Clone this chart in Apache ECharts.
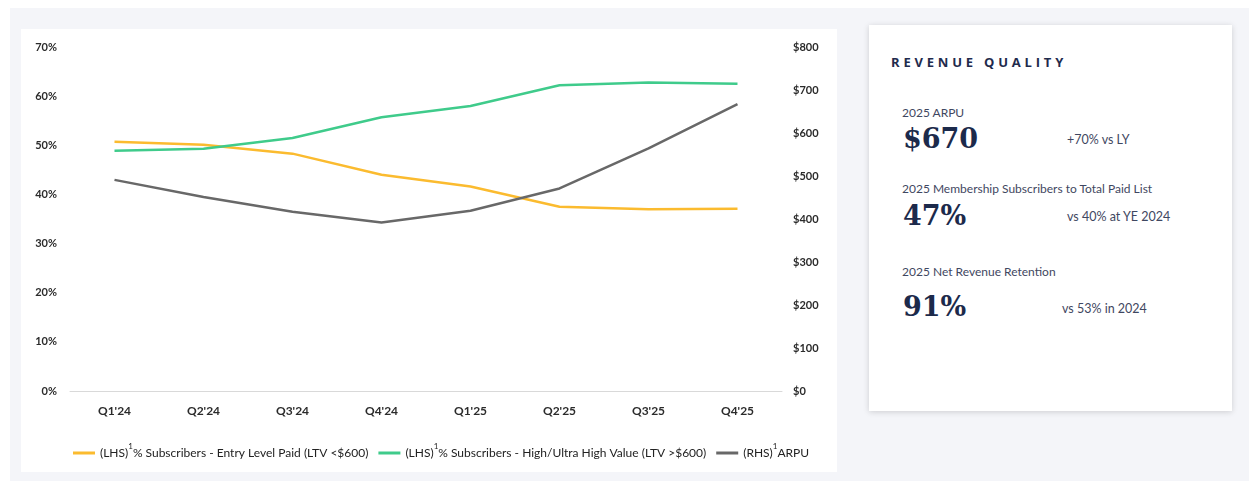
<!DOCTYPE html>
<html>
<head>
<meta charset="utf-8">
<script src="https://cdn.jsdelivr.net/npm/echarts@6/dist/echarts.min.js"></script>
<style>
  html, body { margin: 0; padding: 0; background: #fff; }
  #stage { position: relative; width: 1249px; height: 481px; overflow: hidden; }
  #bg { position: absolute; left: 10px; top: 8px; right: 0; bottom: 0; background: #f4f5f9; }
  #panel { position: absolute; left: 21px; top: 29px; width: 816px; height: 443px; background: #fff; }
  #chart { position: absolute; left: 0; top: 0; width: 1249px; height: 481px; }
  #card {
    position: absolute; left: 869px; top: 25px; width: 363px; height: 386px;
    background: #fff; box-shadow: 0 1px 6px rgba(0, 0, 0, 0.16);
    font-family: Lato, 'Open Sans', sans-serif; color: #3f4761;
  }
  #card div { position: absolute; white-space: nowrap; }
  .title { left: 22px; top: 28px; font: bold 13px 'Open Sans', sans-serif; letter-spacing: 3.8px; color: #1f2b4d; }
  .lbl { left: 33px; font-size: 12px; line-height: 14px; }
  .big { left: 34px; font: bold 27px 'DejaVu Serif', serif; line-height: 28px; color: #1c2a4b; }
  .cmp { font-size: 12.5px; line-height: 14px; }
</style>
</head>
<body>
<div id="stage">
  <div id="bg"></div>
  <div id="panel"></div>
  <div id="card">
    <div class="title">REVENUE QUALITY</div>
    <div class="lbl" style="top:81px">2025 ARPU</div>
    <div class="big" style="top:100px">$670</div>
    <div class="cmp" style="left:198px;top:108px">+70% vs LY</div>
    <div class="lbl" style="top:157px">2025 Membership Subscribers to Total Paid List</div>
    <div class="big" style="top:177px">47%</div>
    <div class="cmp" style="left:198px;top:185px">vs 40% at YE 2024</div>
    <div class="lbl" style="top:240px">2025 Net Revenue Retention</div>
    <div class="big" style="top:268px">91%</div>
    <div class="cmp" style="left:193px;top:277px">vs 53% in 2024</div>
  </div>
  <div id="chart"></div>
</div>
<script>
const categories = ["Q1'24", "Q2'24", "Q3'24", "Q4'24", "Q1'25", "Q2'25", "Q3'25", "Q4'25"]
// % of subscribers, left axis
const entryLevel = [50.7, 50.1, 48.3, 44.0, 41.6, 37.5, 37.0, 37.1]
const highValue = [48.9, 49.3, 51.5, 55.7, 58.0, 62.2, 62.8, 62.5]
// ARPU in $, right axis
const arpu = [491, 451, 417, 392, 419, 471, 564, 667]

const seriesNames = [
  '(LHS)% Subscribers - Entry Level Paid (LTV <$600)',
  '(LHS)% Subscribers - High/Ultra High Value (LTV >$600)',
  '(RHS)ARPU'
]

const myChart = echarts.init(document.getElementById('chart'))
const labelFont = { fontFamily: 'Lato', fontSize: 11, fontWeight: 'bold', color: '#2b2b2b' }

const option = {
  animation: false,
  backgroundColor: 'transparent',
  color: ['#fbbb2f', '#3fcb8b', '#686868'],
  grid: { left: 70, right: 467, top: 47, bottom: 90 },
  legend: {
    left: 68,
    top: 437,
    icon: 'rect',
    itemWidth: 22,
    itemHeight: 3,
    itemGap: 10,
    formatter: name => name.replace(')', '){sup|1}'),
    textStyle: {
      fontFamily: 'Lato',
      fontSize: 12,
      color: '#222',
      rich: {
        sup: { fontSize: 8, padding: [0, 0, 14, 0], color: '#222' }
      }
    },
    data: seriesNames
  },
  xAxis: {
    type: 'category',
    data: categories,
    axisLine: { lineStyle: { color: '#d9d9d9', width: 1 } },
    axisTick: { show: false },
    axisLabel: { ...labelFont, fontSize: 12, margin: 14 }
  },
  yAxis: [
    {
      type: 'value',
      min: 0,
      max: 70,
      interval: 10,
      splitLine: { show: false },
      axisLine: { show: false },
      axisTick: { show: false },
      axisLabel: { ...labelFont, margin: 13, formatter: '{value}%' }
    },
    {
      type: 'value',
      min: 0,
      max: 800,
      interval: 100,
      splitLine: { show: false },
      axisLine: { show: false },
      axisTick: { show: false },
      axisLabel: { ...labelFont, margin: 11, formatter: '${value}' }
    }
  ],
  series: [
    { name: seriesNames[0], type: 'line', yAxisIndex: 0, data: entryLevel, symbol: 'none', lineStyle: { width: 2.5 } },
    { name: seriesNames[1], type: 'line', yAxisIndex: 0, data: highValue, symbol: 'none', lineStyle: { width: 2.5 } },
    { name: seriesNames[2], type: 'line', yAxisIndex: 1, data: arpu, symbol: 'none', lineStyle: { width: 2.5 } }
  ]
}

myChart.setOption(option)
</script>
</body>
</html>
